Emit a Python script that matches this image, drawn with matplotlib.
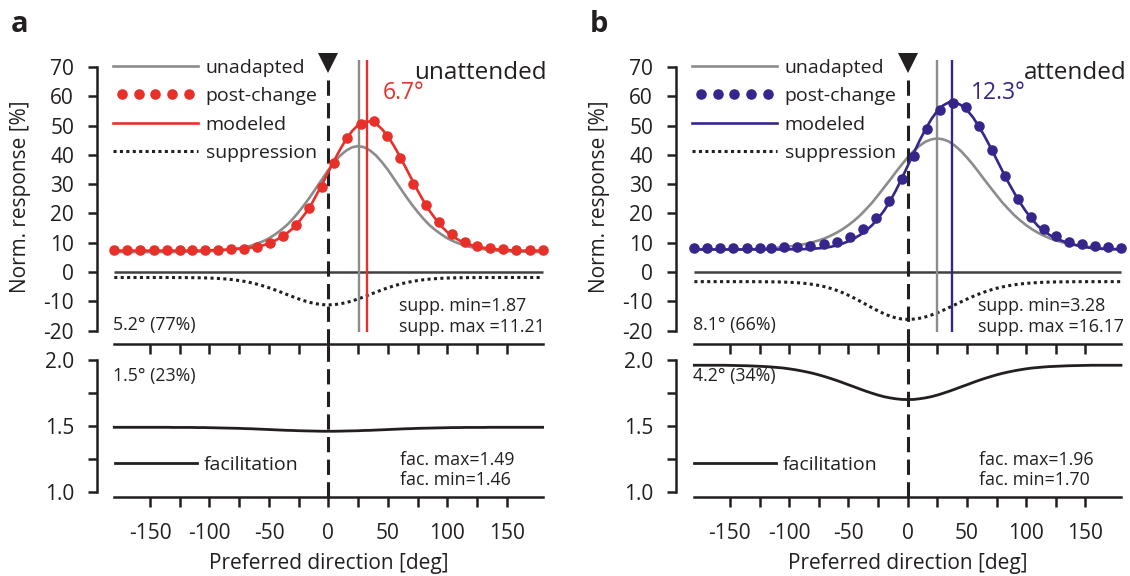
import numpy as np
import matplotlib
matplotlib.use('Agg')
import matplotlib.pyplot as plt
from matplotlib.legend_handler import HandlerLine2D
from matplotlib.ticker import FixedLocator

plt.rcParams['font.family'] = ['Open Sans', 'DejaVu Sans']
plt.rcParams['axes.unicode_minus'] = False

INK = '#231f20'
GRAY = '#8c8c8c'
RED = '#e8302a'
PURPLE = '#36258a'

# preferred direction grid for the smooth curves (deg)
DIRS = np.arange(-180, 185, 5)
# directions of the measured neurons (deg)
DOT_DIRS = [-180, -169, -158, -147, -136, -125, -115, -104, -93, -82, -71, -60,
            -49, -38, -27, -16, -5, 5, 16, 27, 38, 49, 60, 71, 82, 93, 104,
            115, 125, 136, 147, 158, 169, 180]
ADAPTER = 0

# ---- unattended ----
GRAY_A = [6.8, 6.8, 6.8, 6.8, 6.8, 6.8, 6.8, 6.8, 6.8, 6.8, 6.8, 6.8,
          6.9, 6.9, 7.0, 7.0, 7.1, 7.2, 7.4, 7.6, 7.8, 8.1, 8.5, 9.0,
          9.7, 10.5, 11.5, 12.8, 14.3, 16.0, 18.1, 20.5, 23.1, 25.9, 28.9, 31.9,
          34.9, 37.5, 39.8, 41.5, 42.6, 43.0, 42.6, 41.5, 39.8, 37.5, 34.9, 31.9,
          28.9, 25.9, 23.1, 20.5, 18.1, 16.0, 14.3, 12.8, 11.5, 10.5, 9.7, 9.0,
          8.5, 8.1, 7.8, 7.6, 7.4, 7.2, 7.1, 7.0, 7.0, 6.9, 6.9, 6.8, 6.8]
MODEL_A = [7.3, 7.3, 7.3, 7.3, 7.3, 7.3, 7.3, 7.3, 7.3, 7.3, 7.3, 7.3,
           7.3, 7.3, 7.3, 7.35, 7.4, 7.5, 7.55, 7.65, 7.8, 7.95, 8.15, 8.35,
           8.6, 9.1, 9.8, 10.7, 11.8, 13.2, 14.9, 17.1, 19.7, 22.6, 26.4, 30.2,
           34.2, 38.2, 42.0, 45.4, 48.2, 50.2, 51.3, 51.4, 50.6, 48.8, 46.3, 43.1,
           39.5, 35.6, 31.7, 27.8, 24.2, 20.9, 18.1, 15.6, 13.6, 12.0, 10.8, 9.9,
           9.2, 8.7, 8.3, 8.0, 7.8, 7.6, 7.5, 7.4, 7.3, 7.3, 7.3, 7.3, 7.3]
DOTS_A = [7.4, 7.4, 7.4, 7.4, 7.4, 7.4, 7.4, 7.4, 7.5, 7.7, 8.0, 8.6, 10.0,
          12.4, 16.0, 21.7, 29.1, 37.3, 45.6, 50.7, 51.6, 46.3, 39.0, 30.1,
          22.8, 17.2, 12.9, 10.4, 8.8, 8.2, 7.9, 7.6, 7.5, 7.4]
SUPP_A = [-1.87, -1.87, -1.87, -1.87, -1.87, -1.87, -1.87, -1.87, -1.87, -1.87, -1.88, -1.89,
          -1.90, -1.92, -1.95, -1.99, -2.05, -2.14, -2.26, -2.42, -2.63, -2.90, -3.24, -3.65,
          -4.15, -4.72, -5.37, -6.09, -6.86, -7.65, -8.43, -9.18, -9.86, -10.42, -10.85, -11.12,
          -11.21, -11.12, -10.85, -10.42, -9.86, -9.18, -8.43, -7.65, -6.86, -6.09, -5.37, -4.72,
          -4.15, -3.65, -3.24, -2.90, -2.63, -2.42, -2.26, -2.14, -2.05, -1.99, -1.95, -1.92,
          -1.90, -1.89, -1.88, -1.87, -1.87, -1.87, -1.87, -1.87, -1.87, -1.87, -1.87, -1.87, -1.87]
FAC_A = [1.490, 1.490, 1.490, 1.490, 1.490, 1.490, 1.490, 1.490, 1.490, 1.490, 1.489, 1.489,
         1.489, 1.489, 1.488, 1.488, 1.487, 1.486, 1.485, 1.484, 1.483, 1.482, 1.480, 1.479,
         1.477, 1.475, 1.473, 1.471, 1.469, 1.467, 1.466, 1.464, 1.463, 1.462, 1.461, 1.460,
         1.460, 1.460, 1.461, 1.462, 1.463, 1.464, 1.466, 1.467, 1.469, 1.471, 1.473, 1.475,
         1.477, 1.479, 1.480, 1.482, 1.483, 1.484, 1.485, 1.486, 1.487, 1.488, 1.488, 1.489,
         1.489, 1.489, 1.489, 1.490, 1.490, 1.490, 1.490, 1.490, 1.490, 1.490, 1.490, 1.490, 1.490]

# ---- attended ----
GRAY_B = [7.8, 7.8, 7.7, 7.7, 7.7, 7.7, 7.7, 7.7, 7.7, 7.8, 7.8, 7.9,
          8.0, 8.1, 8.3, 8.5, 8.7, 9.0, 9.3, 9.7, 10.2, 10.8, 11.5, 12.4,
          13.4, 14.6, 16.0, 17.6, 19.4, 21.5, 23.7, 26.2, 28.8, 31.4, 34.1, 36.7,
          39.1, 41.3, 43.1, 44.5, 45.3, 45.6, 45.3, 44.5, 43.1, 41.3, 39.1, 36.7,
          34.1, 31.4, 28.8, 26.2, 23.7, 21.5, 19.4, 17.6, 16.0, 14.6, 13.4, 12.4,
          11.5, 10.8, 10.2, 9.7, 9.3, 9.0, 8.7, 8.5, 8.3, 8.1, 8.0, 7.9, 7.8]
MODEL_B = [7.7, 7.7, 7.7, 7.7, 7.7, 7.7, 7.7, 7.7, 7.7, 7.7, 7.7, 7.7,
           7.7, 7.7, 7.7, 7.7, 7.75, 7.75, 7.8, 7.85, 7.95, 8.1, 8.3, 8.6,
           9.1, 9.7, 10.5, 11.5, 12.7, 14.2, 16.0, 18.3, 20.9, 24.1, 27.8, 31.9,
           36.2, 40.5, 44.8, 48.7, 52.2, 55.0, 56.9, 58.0, 58.0, 57.0, 55.3, 52.9,
           49.8, 46.3, 42.5, 38.5, 34.5, 30.6, 27.0, 23.6, 20.6, 18.0, 15.7, 14.0,
           12.6, 11.5, 10.7, 10.0, 9.4, 8.9, 8.5, 8.2, 8.0, 7.9, 7.8, 7.75, 7.7]
DOTS_B = [8.2, 8.2, 8.2, 8.2, 8.2, 8.2, 8.3, 8.5, 8.7, 9.0, 9.5, 10.4, 12.0,
          14.6, 18.5, 24.3, 31.6, 39.6, 48.7, 55.3, 57.8, 56.2, 49.8, 41.8,
          32.9, 25.1, 18.9, 14.8, 12.4, 10.4, 9.6, 8.8, 8.4, 8.2]
SUPP_B = [-3.28, -3.28, -3.28, -3.28, -3.28, -3.28, -3.28, -3.28, -3.28, -3.28, -3.29, -3.30,
          -3.32, -3.34, -3.37, -3.42, -3.50, -3.60, -3.75, -3.96, -4.23, -4.58, -5.02, -5.58,
          -6.25, -7.03, -7.93, -8.92, -9.99, -11.10, -12.21, -13.27, -14.22, -15.04, -15.65, -16.04,
          -16.17, -16.07, -15.78, -15.31, -14.68, -13.91, -13.05, -12.12, -11.16, -10.19, -9.25, -8.36,
          -7.54, -6.79, -6.13, -5.56, -5.08, -4.68, -4.35, -4.08, -3.87, -3.71, -3.59, -3.50,
          -3.43, -3.38, -3.35, -3.33, -3.31, -3.30, -3.29, -3.28, -3.28, -3.28, -3.28, -3.28, -3.28]
FAC_B = [1.960, 1.960, 1.960, 1.960, 1.960, 1.960, 1.959, 1.958, 1.957, 1.956, 1.954, 1.952,
         1.950, 1.947, 1.943, 1.939, 1.933, 1.926, 1.918, 1.909, 1.899, 1.887, 1.874, 1.860,
         1.845, 1.829, 1.812, 1.796, 1.779, 1.763, 1.748, 1.734, 1.722, 1.713, 1.706, 1.701,
         1.700, 1.701, 1.706, 1.713, 1.722, 1.734, 1.748, 1.763, 1.779, 1.796, 1.812, 1.829,
         1.845, 1.860, 1.874, 1.887, 1.899, 1.909, 1.918, 1.926, 1.933, 1.939, 1.943, 1.947,
         1.950, 1.952, 1.954, 1.956, 1.957, 1.958, 1.959, 1.960, 1.960, 1.960, 1.960, 1.960, 1.960]

PANELS = [
    dict(letter='a', cond='unattended', color=RED, gray=GRAY_A, model=MODEL_A, dots=DOTS_A,
         supp=SUPP_A, fac=FAC_A, gray_peak=25.4, peak=32.1,
         supp_share='5.2\u00b0 (77%)', fac_share='1.5\u00b0 (23%)',
         left=97, width=448, xlim=(-194.5, 182), shift_x=45.8, cond_x=183.5),
    dict(letter='b', cond='attended', color=PURPLE, gray=GRAY_B, model=MODEL_B, dots=DOTS_B,
         supp=SUPP_B, fac=FAC_B, gray_peak=25.1, peak=37.4,
         supp_share='8.1\u00b0 (66%)', fac_share='4.2\u00b0 (34%)',
         left=676, width=448.5, xlim=(-195.5, 183), shift_x=53.4, cond_x=184.5),
]

W, H = 1130, 576
fig = plt.figure(figsize=(W / 100, H / 100), dpi=100)
fig.patch.set_facecolor('white')

LW = 1.8
dash_kw = dict(color=INK, lw=2.2, linestyle=(0, (5.0, 2.4)), clip_on=False)

for p in PANELS:
    left = p['left'] / W
    width = p['width'] / W
    c = p['color']

    # upper axes: tuning curves
    ax = fig.add_axes([left, 1 - 344 / H, width, 277 / H])
    ax.set_facecolor('none')
    ax.set_xlim(*p['xlim'])
    ax.set_ylim(-24.57, 70)
    ax.spines[['top', 'right']].set_visible(False)
    ax.spines['left'].set_bounds(-20, 70)
    ax.spines['bottom'].set_bounds(-180, 180)
    for s in ('left', 'bottom'):
        ax.spines[s].set_linewidth(LW)
        ax.spines[s].set_color(INK)
    ax.set_yticks(range(-20, 71, 10))
    ax.set_xticks(range(-150, 151, 25))
    ax.set_xticklabels([])
    ax.tick_params(axis='y', length=6.5, width=LW, pad=10, labelsize=15,
                   color=INK, labelcolor=INK)
    ax.tick_params(axis='x', length=7.2, width=LW, color=INK)

    ax.hlines(0, DIRS[0], DIRS[-1], color='#404040', lw=1.8, zorder=1)
    h_supp, = ax.plot(DIRS, p['supp'], color=INK, lw=2.2, linestyle=(0, (1, 1.1)), zorder=2)
    h_gray, = ax.plot(DIRS, p['gray'], color=GRAY, lw=1.9, zorder=3)
    ax.vlines(p['gray_peak'], -20.5, 72.5, color=GRAY, lw=1.7, zorder=3, clip_on=False)
    ax.vlines(p['peak'], -20.5, 72.5, color=c, lw=1.7, zorder=3, clip_on=False)
    ax.vlines(ADAPTER, -24.57, 66.5, zorder=4, **dash_kw)
    ax.plot([ADAPTER], [71.2], marker='v', ms=14, color=INK, mew=0, clip_on=False, zorder=5)
    h_model, = ax.plot(DIRS, p['model'], color=c, lw=1.9, zorder=4)
    h_dots, = ax.plot(DOT_DIRS, p['dots'], linestyle='none', marker='o', ms=7.6,
                      color=c, mew=0, zorder=5, clip_on=False)

    leg = ax.legend([h_gray, h_dots, h_model, h_supp],
                    ['unadapted', 'post-change', 'modeled', 'suppression'],
                    loc='upper left', bbox_to_anchor=(16 / p['width'], 1.029),
                    frameon=False, fontsize=14, handlelength=4.35, handletextpad=0.42,
                    labelspacing=0.53, borderpad=0, borderaxespad=0,
                    handler_map={h_dots: HandlerLine2D(numpoints=5, marker_pad=0.45)})
    for t in leg.get_texts():
        t.set_color(INK)

    ax.text(p['cond_x'], 68, p['cond'], ha='right', va='center', fontsize=17.5, color=INK)
    ax.text(p['shift_x'], 61, f"{p['peak'] - p['gray_peak']:.1f}\u00b0", ha='left',
            va='center', fontsize=16.5, color=c)
    ax.text(-181, -18.1, p['supp_share'], ha='left', va='center', fontsize=12.8, color=INK)
    ax.text(59.5, -11.6, f"supp. min={-p['supp'][0]:.2f}", ha='left', va='center',
            fontsize=12.8, color=INK)
    ax.text(59.5, -18.8, f"supp. max ={-min(p['supp']):.2f}", ha='left', va='center',
            fontsize=12.8, color=INK)

    # lower axes: facilitation
    bx = fig.add_axes([left, 1 - 497 / H, width, 153 / H])
    bx.set_facecolor('none')
    bx.set_xlim(*p['xlim'])
    bx.set_ylim(0.962, 2.121)
    bx.spines[['top', 'right']].set_visible(False)
    bx.spines['left'].set_bounds(1.0, 2.0)
    bx.spines['bottom'].set_bounds(-180, 180)
    for s in ('left', 'bottom'):
        bx.spines[s].set_linewidth(LW)
        bx.spines[s].set_color(INK)
    bx.set_yticks([1.0, 1.25, 1.5, 1.75, 2.0])
    bx.set_yticklabels(['1.0', '', '1.5', '', '2.0'])
    bx.set_xticks(range(-150, 151, 50))
    bx.xaxis.set_minor_locator(FixedLocator([-125, -75, -25, 25, 75, 125]))
    bx.tick_params(axis='y', length=6.5, width=LW, pad=10, labelsize=15,
                   color=INK, labelcolor=INK)
    bx.tick_params(axis='x', which='both', length=7.2, width=LW, color=INK)
    bx.tick_params(axis='x', pad=11.5, labelsize=15, labelcolor=INK)

    bx.vlines(ADAPTER, 0.962, 2.121, zorder=1, **dash_kw)
    h_fac, = bx.plot(DIRS, p['fac'], color=INK, lw=2.0, zorder=3)
    leg2 = bx.legend([h_fac], ['facilitation'], loc='center left',
                     bbox_to_anchor=(18 / p['width'], 0.209), frameon=False, fontsize=14,
                     handlelength=4.2, handletextpad=0.36, borderpad=0, borderaxespad=0)
    for t in leg2.get_texts():
        t.set_color(INK)

    bx.text(-181, 1.879, p['fac_share'], ha='left', va='center', fontsize=12.8, color=INK)
    bx.text(60, 1.242, f"fac. max={max(p['fac']):.2f}", ha='left', va='center',
            fontsize=12.8, color=INK)
    bx.text(60, 1.091, f"fac. min={min(p['fac']):.2f}", ha='left', va='center',
            fontsize=12.8, color=INK)

    # axis titles and panel letter
    x0 = p['left'] + (0 - p['xlim'][0]) / (p['xlim'][1] - p['xlim'][0]) * p['width']
    fig.text(x0 / W, 1 - 564 / H, 'Preferred direction [deg]', ha='center', va='center',
             fontsize=15, color=INK)
    fig.text((p['left'] - 76.5) / W, 1 - 196.5 / H, 'Norm. response [%]', rotation=90,
             ha='center', va='center', fontsize=15, color=INK)
    fig.text((p['left'] - 86) / W, 1 - 32 / H, p['letter'], ha='left', va='baseline',
             fontsize=21, fontweight='bold', color=INK)

fig.savefig('out.png', dpi=100, facecolor='white')
